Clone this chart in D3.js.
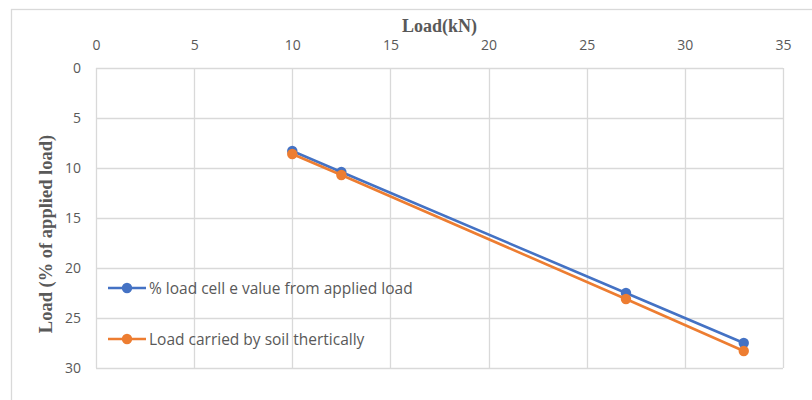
<!DOCTYPE html>
<html>
<head>
<meta charset="utf-8">
<script src="https://cdn.jsdelivr.net/npm/d3@7"></script>
<style>
  html, body { margin: 0; padding: 0; background: #fff; }
  svg { display: block; }
</style>
</head>
<body>
<svg id="chart" width="812" height="400"></svg>
<script>
// Applied load (kN) for each test stage
const loads = [10, 12.5, 27, 33];
// Percent of applied load: load cell reading vs. theoretical soil share
const loadCellPct = [8.3, 10.4, 22.5, 27.5];
const soilTheoryPct = [8.6, 10.7, 23.1, 28.3];
const seriesNames = ["% load cell e value from applied load", "Load carried by soil thertically"];
const seriesColors = ["#4472C4", "#ED7D31"];
const xTicks = [0, 5, 10, 15, 20, 25, 30, 35];
const yTicks = [0, 5, 10, 15, 20, 25, 30];

const svg = d3.select("#chart");
const margin = { left: 96, right: 29, top: 68, bottom: 32 };
const W = 812, H = 400;
const labelFont = "'Open Sans', 'Liberation Sans', sans-serif";
const titleFont = "'Liberation Serif', 'Times New Roman', serif";

// Chart frame
svg.append("rect")
  .attr("x", 11.5).attr("y", 9.5)
  .attr("width", 820).attr("height", 420)
  .attr("fill", "none").attr("stroke", "#d9d9d9").attr("stroke-width", 1.3);

const x = d3.scaleLinear().domain([0, 35]).range([margin.left, W - margin.right]);
const y = d3.scaleLinear().domain([0, 30]).range([margin.top, H - margin.bottom]);

// Gridlines
const grid = svg.append("g");
grid.selectAll("line.v").data(xTicks).enter().append("line")
  .attr("x1", d => Math.round(x(d)) + 0.5).attr("x2", d => Math.round(x(d)) + 0.5)
  .attr("y1", y(0)).attr("y2", y(30))
  .attr("stroke", "#d9d9d9").attr("stroke-width", 1.3);
grid.selectAll("line.h").data(yTicks).enter().append("line")
  .attr("x1", x(0)).attr("x2", x(35))
  .attr("y1", d => Math.round(y(d)) + 0.5).attr("y2", d => Math.round(y(d)) + 0.5)
  .attr("stroke", "#d9d9d9").attr("stroke-width", 1.3);

// Top axis (load in kN)
const xAxis = svg.append("g")
  .attr("transform", `translate(0,${margin.top - 18})`)
  .call(d3.axisTop(x).tickValues(xTicks).tickSize(0).tickPadding(0));
xAxis.select(".domain").remove();
xAxis.selectAll("text")
  .attr("fill", "#595959").style("font-family", labelFont)
  .style("font-size", "14px");

// Left axis (percent, increasing downward)
const yAxis = svg.append("g")
  .attr("transform", `translate(${margin.left - 15},0)`)
  .call(d3.axisLeft(y).tickValues(yTicks).tickSize(0).tickPadding(0));
yAxis.select(".domain").remove();
yAxis.selectAll("text")
  .attr("fill", "#595959").style("font-family", labelFont)
  .style("font-size", "14px");

// Axis titles
svg.append("text")
  .attr("x", (x(0) + x(35)) / 2).attr("y", 32)
  .attr("text-anchor", "middle")
  .style("font-family", titleFont)
  .style("font-weight", "bold").style("font-size", "18px")
  .attr("fill", "#595959")
  .text("Load(kN)");
svg.append("text")
  .attr("transform", `translate(52,234) rotate(-90)`)
  .attr("text-anchor", "middle")
  .style("font-family", titleFont)
  .style("font-weight", "bold").style("font-size", "18.5px")
  .attr("fill", "#595959")
  .text("Load (% of applied load)");

// Series
const series = [loadCellPct, soilTheoryPct];
const line = d3.line().x(d => x(d[0])).y(d => y(d[1]));
series.forEach((vals, i) => {
  const pts = loads.map((l, j) => [l, vals[j]]);
  const g = svg.append("g");
  g.append("path").datum(pts)
    .attr("d", line).attr("fill", "none")
    .attr("stroke", seriesColors[i]).attr("stroke-width", 2.6)
    .attr("stroke-linejoin", "round");
  g.selectAll("circle").data(pts).enter().append("circle")
    .attr("cx", d => x(d[0])).attr("cy", d => y(d[1])).attr("r", 5.2)
    .attr("fill", seriesColors[i]);
});

// Legend
const legendY = [288, 339];
seriesNames.forEach((name, i) => {
  const g = svg.append("g").attr("transform", `translate(108,${legendY[i]})`);
  g.append("line").attr("x1", 0).attr("x2", 38).attr("y1", 0).attr("y2", 0)
    .attr("stroke", seriesColors[i]).attr("stroke-width", 2.6);
  g.append("circle").attr("cx", 19).attr("cy", 0).attr("r", 5.2).attr("fill", seriesColors[i]);
  g.append("text").attr("x", 41).attr("y", 5.5)
    .style("font-family", labelFont)
    .style("font-size", "15.5px").attr("fill", "#595959")
    .text(name);
});
</script>
</body>
</html>
